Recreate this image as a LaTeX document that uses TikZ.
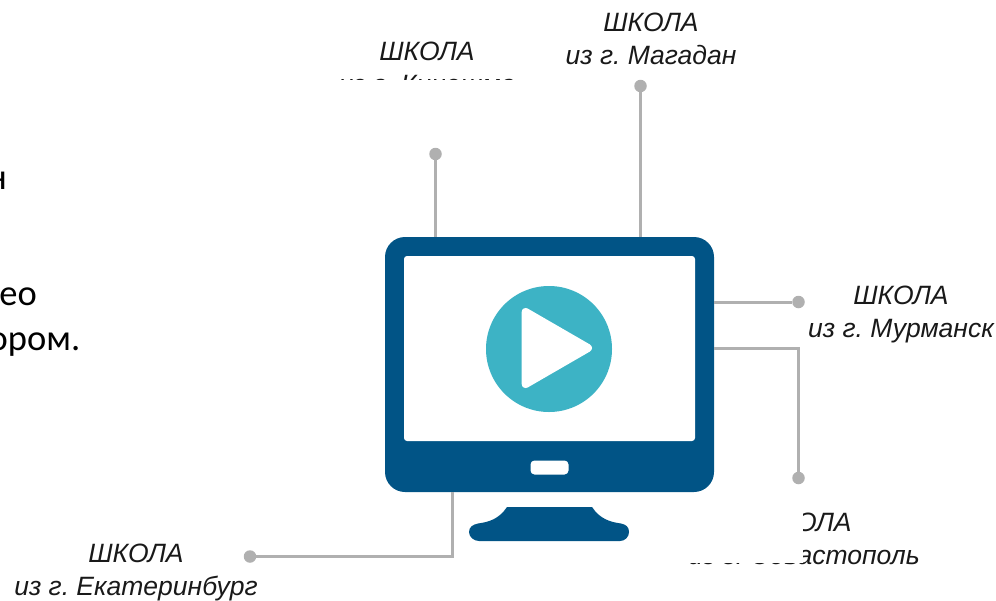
\documentclass[tikz,border=0pt]{standalone}
\usepackage{fontspec}
\setmainfont{Liberation Sans}
\newfontfamily\bodyfont{Carlito}
\definecolor{navy}{HTML}{015486}
\definecolor{teal2}{HTML}{3DB3C5}
\definecolor{wire}{HTML}{B0B0B0}
\frenchspacing
\tikzset{
  school/.style={font=\fontsize{26.5pt}{33pt}\selectfont\itshape, text=black!90, align=center, inner sep=0pt},
  bodytext/.style={font=\fontsize{36.5pt}{40pt}\bodyfont, text=black, inner sep=0pt},
  wireline/.style={draw=wire, line width=3pt},
  dotend/.style={circle, fill=wire, minimum size=12.5pt, inner sep=0pt},
  mask/.style={fill=white, draw=none},
}
\begin{document}
\begin{tikzpicture}[x=1pt,y=-1pt]
\useasboundingbox (0,0) rectangle (996,600);
\clip (0,0) rectangle (996,600);
% left text, cut by the page edge
\node[bodytext, anchor=base east] (t1) at (7,189) {н};
\node[bodytext, anchor=base east] (t2) at (37,305) {део};
\node[bodytext, anchor=base east] (t3) at (80.5,350) {ором.};
% school labels
\node[school] (kik) at (427,68) {ШКОЛА\\из г. Кинешма};
\fill[mask] (320,79.5) rectangle (540,110);
\node[school] (mag) at (651,39) {ШКОЛА\\из г. Магадан};
\node[school] (mur) at (901,314.5) {ШКОЛА\\из г. Мурманск};
\node[school] (sev) at (804,539) {ШКОЛА\\из г. Севастополь};
\fill[mask] (660,500) rectangle (803,562.5);
\node[school] (eka) at (136,572) {ШКОЛА\\из г. Екатеринбург};
% ends of connectors
\node[dotend] (d1) at (435.5,154) {};
\node[dotend] (d2) at (640.5,86) {};
\node[dotend] (d3) at (798.5,302) {};
\node[dotend] (d4) at (798.5,478) {};
\node[dotend] (d5) at (250,556.5) {};
% monitor
\node[draw=none, fill=navy, rounded corners=20pt, minimum width=329pt, minimum height=255pt, inner sep=0pt] (mon) at (549.5,364.5) {};
\coordinate (c1) at (435.5,237);
\coordinate (c2) at (640.5,237);
\coordinate (c3) at (714,302);
\coordinate (c4) at (714,348.5);
\coordinate (c5) at (452,492);
\draw[wireline] (d1) -- (c1);
\draw[wireline] (d2) -- (c2);
\draw[wireline] (d3) -- (c3);
\draw[wireline] (d4) -- (798.5,348.5) -- (c4);
\draw[wireline] (d5) -- (452,556.5) -- (c5);
\node[fill=white, rounded corners=3pt, minimum width=291pt, minimum height=185pt, inner sep=0pt] (scr) at (549.5,348.5) {};
\node[circle, fill=teal2, minimum size=126pt, inner sep=0pt] (play) at (549,349) {};
\fill[white, draw=white, line width=8pt, line join=round] (525.7,312) -- (588,348) -- (525.7,384) -- cycle;
\node[fill=white, rounded corners=4pt, minimum width=38pt, minimum height=14pt, inner sep=0pt] (btn) at (549.5,467.5) {};
% stand
\fill[navy] (507,507) -- (592,507)
  .. controls (600,519) and (610,522) .. (621,523.5)
  .. controls (626,524.5) and (629,527) .. (629,532)
  .. controls (629,537) and (625,541) .. (620,541)
  -- (479,541)
  .. controls (474,541) and (469,537) .. (469,532)
  .. controls (469,527) and (473,524.5) .. (478,523.5)
  .. controls (489,522) and (499,519) .. (507,507) -- cycle;
\end{tikzpicture}
\end{document}
